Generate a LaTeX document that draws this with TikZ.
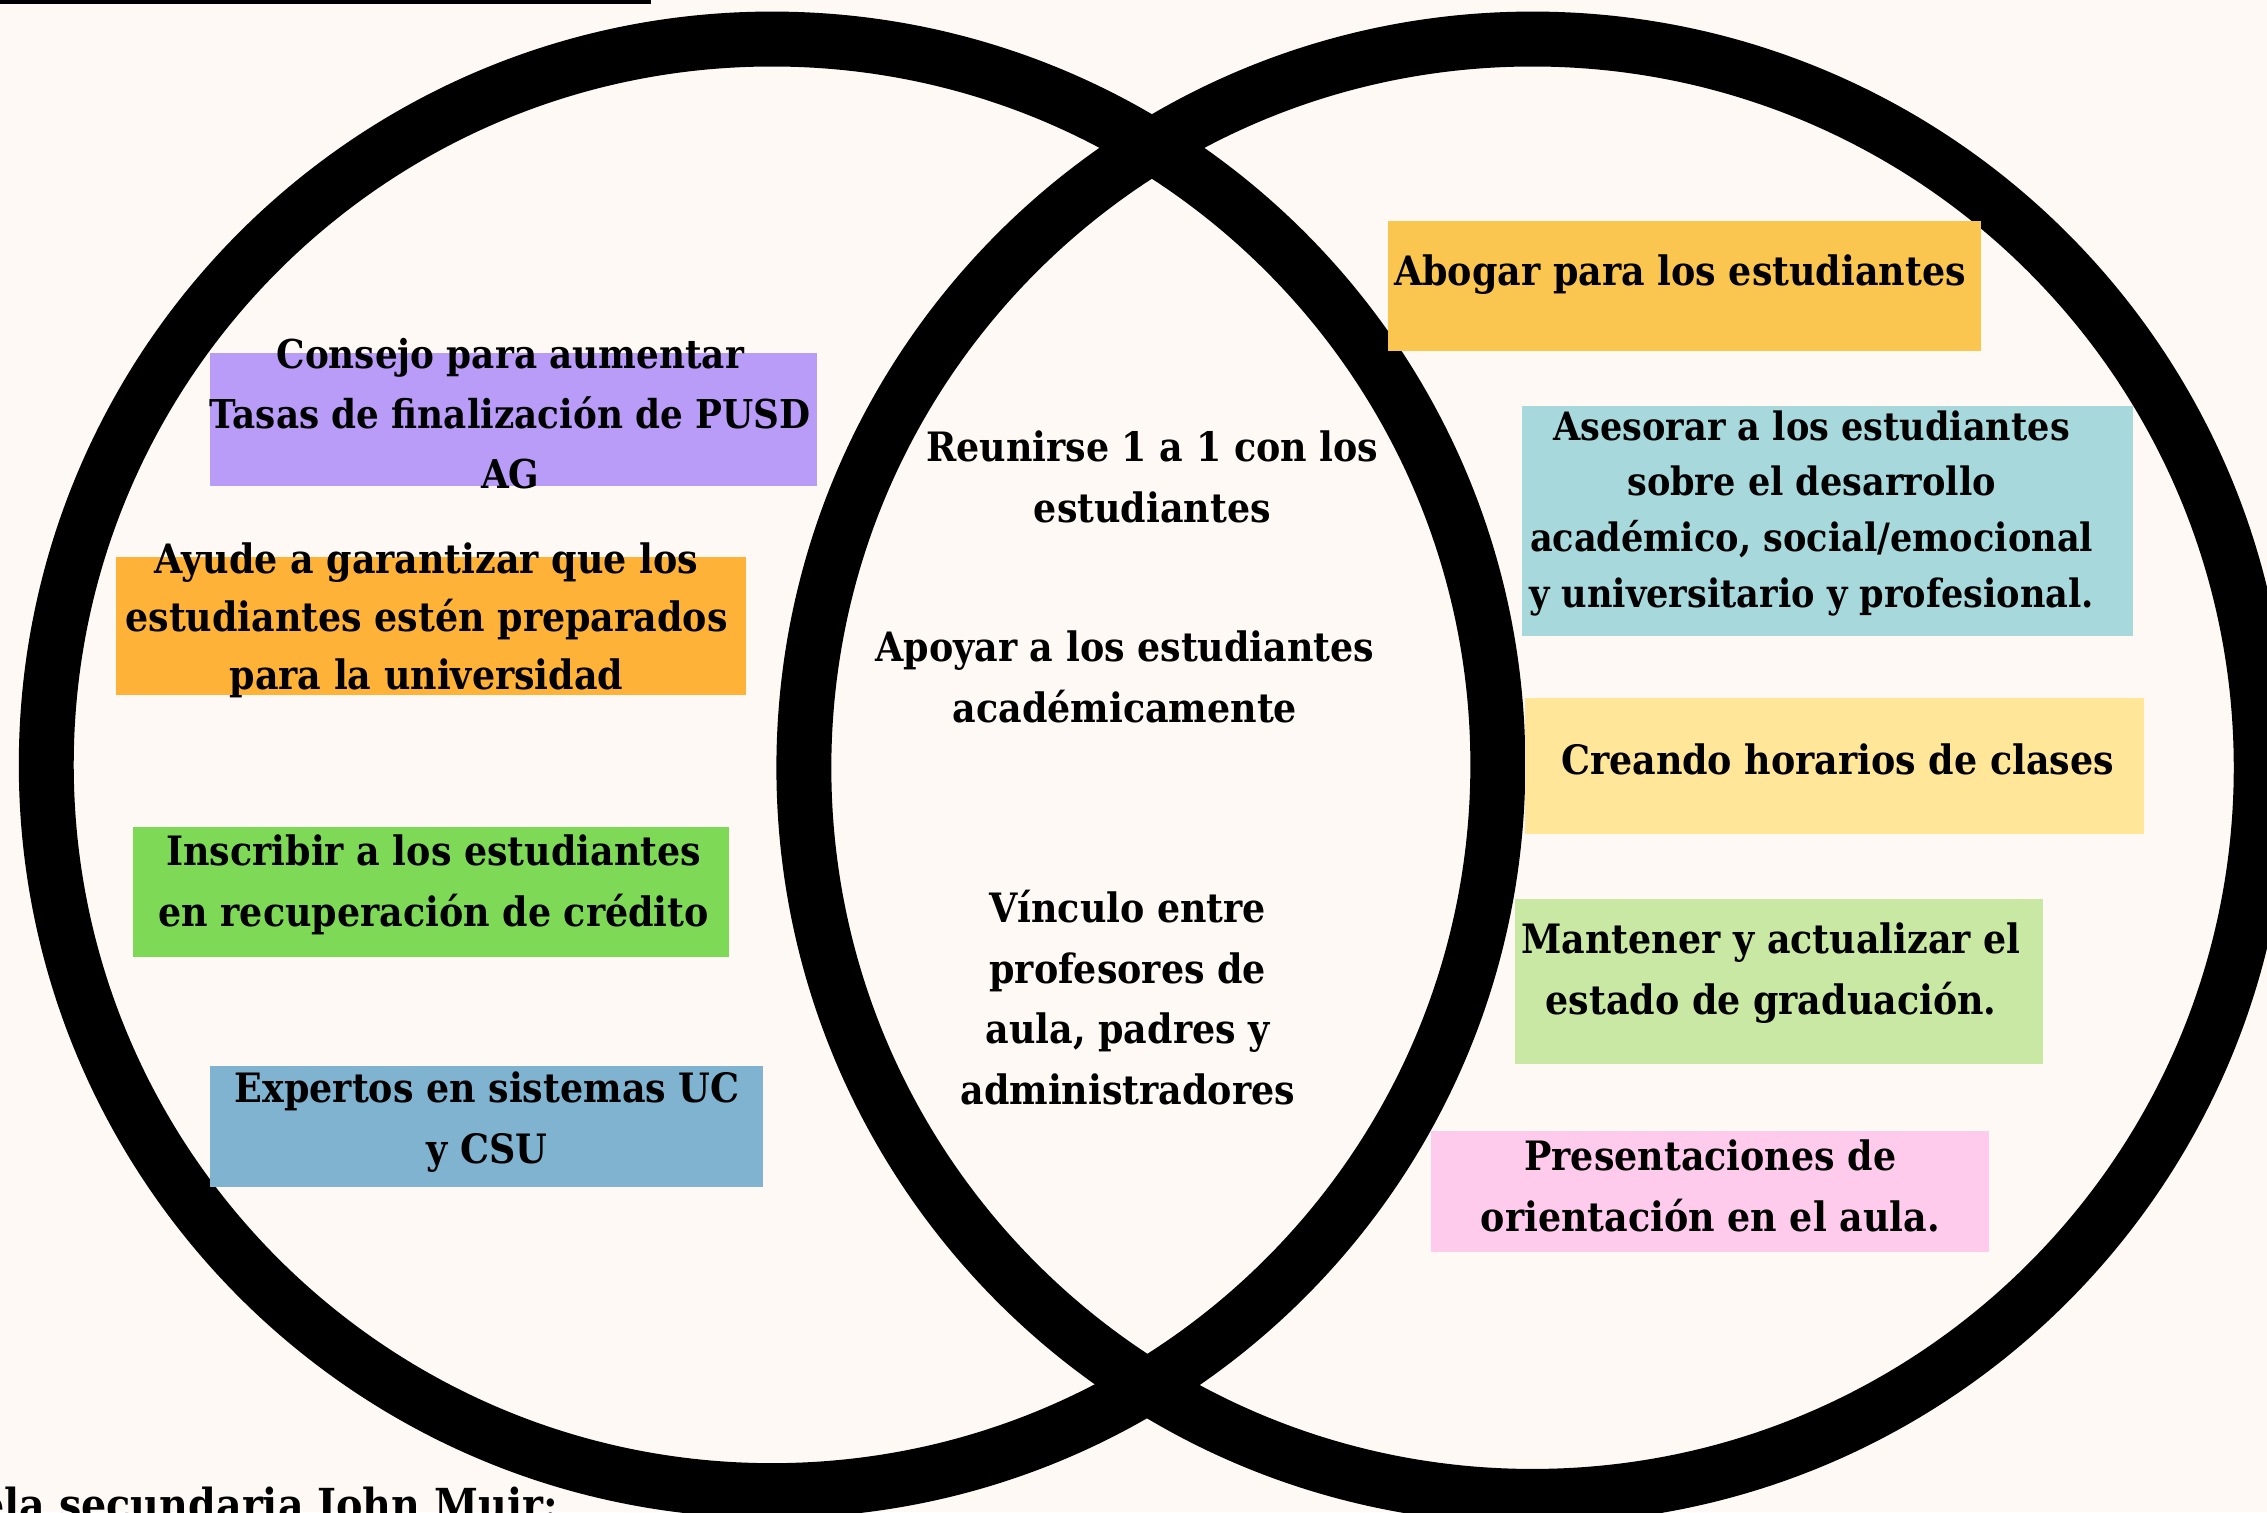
\documentclass[tikz,border=0pt]{standalone}
\usepackage{fontspec}
\setmainfont{DejaVu Serif Condensed}[BoldFont={DejaVu Serif Condensed Bold}]
\definecolor{fondo}{HTML}{FFF9F5}
\definecolor{lila}{HTML}{B89CF7}
\definecolor{naranja}{HTML}{FFB238}
\definecolor{verde}{HTML}{7ED957}
\definecolor{azul}{HTML}{80B3CF}
\definecolor{oro}{HTML}{FBC650}
\definecolor{turquesa}{HTML}{A6D8DC}
\definecolor{crema}{HTML}{FFE699}
\definecolor{verdeclaro}{HTML}{C9E8A4}
\definecolor{rosa}{HTML}{FFCBEC}
\tikzset{
    txt/.style ={
        align = center,         % texto centrado
        inner sep = 0pt,        % sin margen
        font = \bfseries\fontsize{28}{42}\selectfont
    },
    aro/.style ={
        draw = black,           % color del aro
        line width = 38pt       % grosor del aro
    }
}
\begin{document}
\begin{tikzpicture}[x=1pt,y=-1pt]
    \clip (0,0) rectangle (1568,1046);
    \fill[fondo] (0,0) rectangle (1568,1046);
    \fill[black] (0,0) rectangle (450,2.5);
    % los dos aros
    \draw[aro] (534,529) circle (502);
    \draw[aro] (1060,531) circle (504);
    % cajas de color
    \fill[lila] (145,244) rectangle (565,336);
    \fill[naranja] (80,385) rectangle (516,481);
    \fill[verde] (92,572) rectangle (504,662);
    \fill[azul] (145,737) rectangle (528,821);
    \fill[oro] (960,153) rectangle (1370,243);
    \fill[turquesa] (1053,281) rectangle (1475,440);
    \fill[crema] (1055,483) rectangle (1483,577);
    \fill[verdeclaro] (1048,622) rectangle (1413,736);
    \fill[rosa] (990,782) rectangle (1376,866);
    % textos
    \node[txt, font=\bfseries\fontsize{27.5}{41.5}\selectfont] (consejo) at(353,286) {Consejo para aumentar\\Tasas de finalización de PUSD\\AG};
    \node[txt, font=\bfseries\fontsize{28}{40}\selectfont] (ayude) at(295,429) {Ayude a garantizar que los\\estudiantes estén preparados\\para la universidad};
    \node[txt] (inscribir) at(300,612) {Inscribir a los estudiantes\\en recuperación de crédito};
    \node[txt] (expertos) at(337,776) {Expertos en sistemas UC\\y CSU};
    \node[txt] (abogar) at(1162,190) {Abogar para los estudiantes};
    \node[txt, font=\bfseries\fontsize{27}{38.5}\selectfont] (asesorar) at(1253,355) {Asesorar a los estudiantes\\sobre el desarrollo\\académico, social/emocional\\y universitario y profesional.};
    \node[txt] (creando) at(1271,525) {Creando horarios de clases};
    \node[txt] (mantener) at(1225,673) {Mantener y actualizar el\\estado de graduación.};
    \node[txt] (presentaciones) at(1183,820) {Presentaciones de\\orientación en el aula.};
    \node[txt] (reunirse) at(797,330) {Reunirse 1 a 1 con los\\estudiantes};
    \node[txt] (apoyar) at(778,468) {Apoyar a los estudiantes\\académicamente};
    \node[txt] (vinculo) at(780,690) {Vínculo entre\\profesores de\\aula, padres y\\administradores};
    \node[txt, anchor=base east, font=\bfseries\fontsize{30.5}{36}\selectfont] (escuela) at(386,1052) {Escuela secundaria John Muir:};
\end{tikzpicture}
\end{document}
